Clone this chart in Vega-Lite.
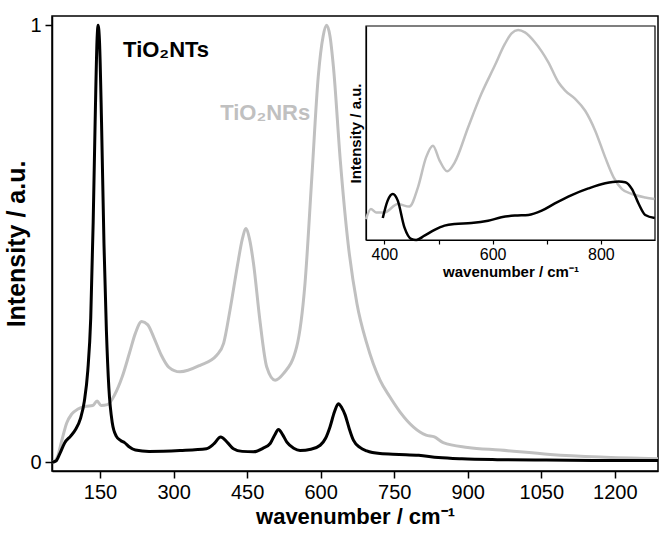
{
  "$schema": "https://vega.github.io/schema/vega-lite/v6.json",
  "autosize": {"type": "none"},
  "padding": {"left": 52, "top": 16, "right": 1, "bottom": 66},
  "width": 606,
  "height": 455,
  "background": "white",
  "config": {
    "font": "Liberation Sans",
    "view": {"stroke": "black", "strokeWidth": 1.5},
    "axis": {"domainColor": "black", "domainWidth": 1.5, "tickColor": "black", "tickWidth": 1.5, "labelColor": "black", "titleColor": "black", "grid": false, "labelFont": "Liberation Sans", "titleFont": "Liberation Sans"}
  },
  "datasets": {
    "main": [
      {"s": "NTs", "wn": 52, "v": 0}, {"s": "NTs", "wn": 60, "v": 0.003}, {"s": "NTs", "wn": 68, "v": 0.02}, {"s": "NTs", "wn": 78, "v": 0.045}, {"s": "NTs", "wn": 90, "v": 0.06}, {"s": "NTs", "wn": 100, "v": 0.075}, {"s": "NTs", "wn": 110, "v": 0.1}, {"s": "NTs", "wn": 118, "v": 0.14}, {"s": "NTs", "wn": 125, "v": 0.21}, {"s": "NTs", "wn": 131, "v": 0.33}, {"s": "NTs", "wn": 136, "v": 0.55}, {"s": "NTs", "wn": 140, "v": 0.78}, {"s": "NTs", "wn": 144, "v": 0.97}, {"s": "NTs", "wn": 146, "v": 1.0}, {"s": "NTs", "wn": 149, "v": 0.96}, {"s": "NTs", "wn": 153, "v": 0.78}, {"s": "NTs", "wn": 158, "v": 0.5}, {"s": "NTs", "wn": 163, "v": 0.3}, {"s": "NTs", "wn": 168, "v": 0.17}, {"s": "NTs", "wn": 175, "v": 0.09}, {"s": "NTs", "wn": 183, "v": 0.06}, {"s": "NTs", "wn": 192, "v": 0.05}, {"s": "NTs", "wn": 200, "v": 0.045}, {"s": "NTs", "wn": 210, "v": 0.035}, {"s": "NTs", "wn": 222, "v": 0.028}, {"s": "NTs", "wn": 250, "v": 0.025}, {"s": "NTs", "wn": 313, "v": 0.027}, {"s": "NTs", "wn": 367, "v": 0.031}, {"s": "NTs", "wn": 382, "v": 0.042}, {"s": "NTs", "wn": 396, "v": 0.058}, {"s": "NTs", "wn": 410, "v": 0.045}, {"s": "NTs", "wn": 422, "v": 0.031}, {"s": "NTs", "wn": 440, "v": 0.025}, {"s": "NTs", "wn": 463, "v": 0.024}, {"s": "NTs", "wn": 482, "v": 0.032}, {"s": "NTs", "wn": 497, "v": 0.043}, {"s": "NTs", "wn": 506, "v": 0.062}, {"s": "NTs", "wn": 514, "v": 0.075}, {"s": "NTs", "wn": 522, "v": 0.064}, {"s": "NTs", "wn": 531, "v": 0.046}, {"s": "NTs", "wn": 545, "v": 0.032}, {"s": "NTs", "wn": 558, "v": 0.027}, {"s": "NTs", "wn": 580, "v": 0.03}, {"s": "NTs", "wn": 599, "v": 0.039}, {"s": "NTs", "wn": 610, "v": 0.055}, {"s": "NTs", "wn": 619, "v": 0.081}, {"s": "NTs", "wn": 628, "v": 0.115}, {"s": "NTs", "wn": 636, "v": 0.134}, {"s": "NTs", "wn": 643, "v": 0.125}, {"s": "NTs", "wn": 650, "v": 0.108}, {"s": "NTs", "wn": 658, "v": 0.078}, {"s": "NTs", "wn": 667, "v": 0.05}, {"s": "NTs", "wn": 680, "v": 0.034}, {"s": "NTs", "wn": 694, "v": 0.026}, {"s": "NTs", "wn": 721, "v": 0.02}, {"s": "NTs", "wn": 760, "v": 0.018}, {"s": "NTs", "wn": 800, "v": 0.016}, {"s": "NTs", "wn": 840, "v": 0.011}, {"s": "NTs", "wn": 888, "v": 0.008}, {"s": "NTs", "wn": 960, "v": 0.006}, {"s": "NTs", "wn": 1060, "v": 0.005}, {"s": "NTs", "wn": 1170, "v": 0.004}, {"s": "NTs", "wn": 1288, "v": 0.004},
      {"s": "NRs", "wn": 52, "v": 0}, {"s": "NRs", "wn": 58, "v": 0.003}, {"s": "NRs", "wn": 64, "v": 0.015}, {"s": "NRs", "wn": 72, "v": 0.05}, {"s": "NRs", "wn": 82, "v": 0.09}, {"s": "NRs", "wn": 92, "v": 0.11}, {"s": "NRs", "wn": 105, "v": 0.122}, {"s": "NRs", "wn": 120, "v": 0.128}, {"s": "NRs", "wn": 135, "v": 0.13}, {"s": "NRs", "wn": 144, "v": 0.14}, {"s": "NRs", "wn": 152, "v": 0.13}, {"s": "NRs", "wn": 165, "v": 0.132}, {"s": "NRs", "wn": 180, "v": 0.155}, {"s": "NRs", "wn": 195, "v": 0.195}, {"s": "NRs", "wn": 210, "v": 0.25}, {"s": "NRs", "wn": 222, "v": 0.295}, {"s": "NRs", "wn": 235, "v": 0.322}, {"s": "NRs", "wn": 247, "v": 0.315}, {"s": "NRs", "wn": 260, "v": 0.285}, {"s": "NRs", "wn": 275, "v": 0.245}, {"s": "NRs", "wn": 290, "v": 0.218}, {"s": "NRs", "wn": 313, "v": 0.207}, {"s": "NRs", "wn": 354, "v": 0.222}, {"s": "NRs", "wn": 388, "v": 0.245}, {"s": "NRs", "wn": 402, "v": 0.272}, {"s": "NRs", "wn": 415, "v": 0.348}, {"s": "NRs", "wn": 432, "v": 0.462}, {"s": "NRs", "wn": 440, "v": 0.51}, {"s": "NRs", "wn": 448, "v": 0.535}, {"s": "NRs", "wn": 455, "v": 0.51}, {"s": "NRs", "wn": 463, "v": 0.455}, {"s": "NRs", "wn": 476, "v": 0.325}, {"s": "NRs", "wn": 490, "v": 0.218}, {"s": "NRs", "wn": 507, "v": 0.188}, {"s": "NRs", "wn": 524, "v": 0.203}, {"s": "NRs", "wn": 551, "v": 0.264}, {"s": "NRs", "wn": 568, "v": 0.409}, {"s": "NRs", "wn": 582, "v": 0.653}, {"s": "NRs", "wn": 595, "v": 0.882}, {"s": "NRs", "wn": 605, "v": 0.975}, {"s": "NRs", "wn": 612, "v": 1.0}, {"s": "NRs", "wn": 619, "v": 0.975}, {"s": "NRs", "wn": 626, "v": 0.905}, {"s": "NRs", "wn": 640, "v": 0.691}, {"s": "NRs", "wn": 656, "v": 0.5}, {"s": "NRs", "wn": 674, "v": 0.363}, {"s": "NRs", "wn": 694, "v": 0.272}, {"s": "NRs", "wn": 721, "v": 0.188}, {"s": "NRs", "wn": 741, "v": 0.15}, {"s": "NRs", "wn": 762, "v": 0.115}, {"s": "NRs", "wn": 790, "v": 0.08}, {"s": "NRs", "wn": 815, "v": 0.062}, {"s": "NRs", "wn": 832, "v": 0.058}, {"s": "NRs", "wn": 850, "v": 0.045}, {"s": "NRs", "wn": 900, "v": 0.034}, {"s": "NRs", "wn": 966, "v": 0.028}, {"s": "NRs", "wn": 1068, "v": 0.018}, {"s": "NRs", "wn": 1170, "v": 0.012}, {"s": "NRs", "wn": 1288, "v": 0.008}
    ],
    "inset": [
      {"s": "NRs", "wn": 366, "v": 0.098}, {"s": "NRs", "wn": 375, "v": 0.145}, {"s": "NRs", "wn": 384.5, "v": 0.129}, {"s": "NRs", "wn": 400, "v": 0.129}, {"s": "NRs", "wn": 424.7, "v": 0.168}, {"s": "NRs", "wn": 446, "v": 0.156}, {"s": "NRs", "wn": 462, "v": 0.246}, {"s": "NRs", "wn": 477, "v": 0.386}, {"s": "NRs", "wn": 489.6, "v": 0.441}, {"s": "NRs", "wn": 502, "v": 0.371}, {"s": "NRs", "wn": 516, "v": 0.321}, {"s": "NRs", "wn": 530, "v": 0.363}, {"s": "NRs", "wn": 554.6, "v": 0.526}, {"s": "NRs", "wn": 579, "v": 0.682}, {"s": "NRs", "wn": 604, "v": 0.815}, {"s": "NRs", "wn": 622.6, "v": 0.916}, {"s": "NRs", "wn": 635, "v": 0.966}, {"s": "NRs", "wn": 647, "v": 0.981}, {"s": "NRs", "wn": 659.7, "v": 0.97}, {"s": "NRs", "wn": 678, "v": 0.924}, {"s": "NRs", "wn": 703, "v": 0.83}, {"s": "NRs", "wn": 721.5, "v": 0.737}, {"s": "NRs", "wn": 734, "v": 0.698}, {"s": "NRs", "wn": 752.5, "v": 0.659}, {"s": "NRs", "wn": 771, "v": 0.604}, {"s": "NRs", "wn": 789.5, "v": 0.511}, {"s": "NRs", "wn": 808, "v": 0.386}, {"s": "NRs", "wn": 823.5, "v": 0.293}, {"s": "NRs", "wn": 839, "v": 0.238}, {"s": "NRs", "wn": 857.5, "v": 0.215}, {"s": "NRs", "wn": 882, "v": 0.199}, {"s": "NRs", "wn": 899, "v": 0.192},
      {"s": "NTs", "wn": 397, "v": 0.103}, {"s": "NTs", "wn": 406, "v": 0.184}, {"s": "NTs", "wn": 415.5, "v": 0.215}, {"s": "NTs", "wn": 424.7, "v": 0.184}, {"s": "NTs", "wn": 437, "v": 0.059}, {"s": "NTs", "wn": 449.5, "v": 0.005}, {"s": "NTs", "wn": 458.7, "v": 0.0}, {"s": "NTs", "wn": 474, "v": 0.02}, {"s": "NTs", "wn": 492.7, "v": 0.047}, {"s": "NTs", "wn": 511, "v": 0.067}, {"s": "NTs", "wn": 530, "v": 0.075}, {"s": "NTs", "wn": 560.7, "v": 0.079}, {"s": "NTs", "wn": 591.6, "v": 0.09}, {"s": "NTs", "wn": 616, "v": 0.106}, {"s": "NTs", "wn": 641, "v": 0.114}, {"s": "NTs", "wn": 666, "v": 0.117}, {"s": "NTs", "wn": 690.6, "v": 0.137}, {"s": "NTs", "wn": 715, "v": 0.171}, {"s": "NTs", "wn": 746, "v": 0.21}, {"s": "NTs", "wn": 777, "v": 0.241}, {"s": "NTs", "wn": 808, "v": 0.265}, {"s": "NTs", "wn": 832.8, "v": 0.273}, {"s": "NTs", "wn": 845, "v": 0.27}, {"s": "NTs", "wn": 857.5, "v": 0.238}, {"s": "NTs", "wn": 870, "v": 0.168}, {"s": "NTs", "wn": 882, "v": 0.117}, {"s": "NTs", "wn": 899.5, "v": 0.103}
    ]
  },
  "layer": [
    {
      "layer": [
        {
          "data": {"name": "main"},
          "transform": [{"filter": "datum.s === 'NRs'"}],
          "mark": {"type": "line", "color": "#c0c0c0", "strokeWidth": 3, "interpolate": "monotone"},
          "encoding": {
            "x": {"field": "wn", "type": "quantitative", "scale": {"domain": [52, 1288], "nice": false, "zero": false},
              "axis": {"values": [150, 300, 450, 600, 750, 900, 1050, 1200], "format": "d", "labelFontSize": 20, "tickSize": 7, "labelPadding": 4, "title": "wavenumber / cm⁻¹", "titleFontSize": 22, "titleFontWeight": "bold", "titlePadding": 4, "labelFlush": false}},
            "y": {"field": "v", "type": "quantitative", "scale": {"domain": [-0.0199, 1.0213], "nice": false, "zero": false},
              "axis": {"values": [0, 1], "format": "d", "labelFontSize": 20, "tickSize": 7, "labelPadding": 4, "title": "Intensity / a.u.", "titleFontSize": 25, "titleFontWeight": "bold", "titlePadding": 0, "labelFlush": false}}
          }
        },
        {
          "data": {"name": "main"},
          "transform": [{"filter": "datum.s === 'NTs'"}],
          "mark": {"type": "line", "color": "#000000", "strokeWidth": 3, "interpolate": "monotone"},
          "encoding": {
            "x": {"field": "wn", "type": "quantitative"},
            "y": {"field": "v", "type": "quantitative"}
          }
        },
        {
          "data": {"values": [{}]},
          "mark": {"type": "text", "align": "left", "baseline": "middle", "fontSize": 22, "fontWeight": "bold", "color": "#000000", "font": "Liberation Sans"},
          "encoding": {
            "x": {"datum": 197, "type": "quantitative"},
            "y": {"datum": 0.943, "type": "quantitative"},
            "text": {"value": "TiO₂NTs"}
          }
        },
        {
          "data": {"values": [{}]},
          "mark": {"type": "text", "align": "left", "baseline": "middle", "fontSize": 22, "fontWeight": "bold", "color": "#c0c0c0", "font": "Liberation Sans"},
          "encoding": {
            "x": {"datum": 395, "type": "quantitative"},
            "y": {"datum": 0.80, "type": "quantitative"},
            "text": {"value": "TiO₂NRs"}
          }
        }
      ]
    },
    {
      "layer": [
        {
          "data": {"values": [{}]},
          "mark": {"type": "rect", "filled": false, "stroke": "#000000", "strokeWidth": 1.2, "fill": "white", "fillOpacity": 0},
          "encoding": {
            "x": {"datum": 366, "type": "quantitative", "scale": {"domain": [366, 900], "range": [314, 603], "nice": false, "zero": false},
              "axis": {"orient": "bottom", "offset": -231, "values": [400, 500, 600, 700, 800], "labelExpr": "datum.value % 200 == 0 ? datum.label : ''", "labelFontSize": 16, "tickSize": 4, "labelPadding": 2, "title": "wavenumber / cm⁻¹", "titleFontSize": 15, "titleFontWeight": "bold", "titlePadding": 2, "domainWidth": 1.2, "tickWidth": 1.2}},
            "x2": {"datum": 900},
            "y": {"datum": 0, "type": "quantitative", "scale": {"domain": [0, 1], "range": [224, 10], "nice": false, "zero": false},
              "axis": {"orient": "left", "offset": -314, "ticks": false, "labels": false, "title": "Intensity / a.u.", "titleFontSize": 15, "titleFontWeight": "bold", "titlePadding": 3, "domainWidth": 1.2}},
            "y2": {"datum": 1}
          }
        },
        {
          "data": {"name": "inset"},
          "transform": [{"filter": "datum.s === 'NRs'"}],
          "mark": {"type": "line", "color": "#c0c0c0", "strokeWidth": 2.5, "interpolate": "monotone"},
          "encoding": {
            "x": {"field": "wn", "type": "quantitative"},
            "y": {"field": "v", "type": "quantitative"}
          }
        },
        {
          "data": {"name": "inset"},
          "transform": [{"filter": "datum.s === 'NTs'"}],
          "mark": {"type": "line", "color": "#000000", "strokeWidth": 2.5, "interpolate": "monotone"},
          "encoding": {
            "x": {"field": "wn", "type": "quantitative"},
            "y": {"field": "v", "type": "quantitative"}
          }
        }
      ]
    }
  ],
  "resolve": {"scale": {"x": "independent", "y": "independent"}}
}
